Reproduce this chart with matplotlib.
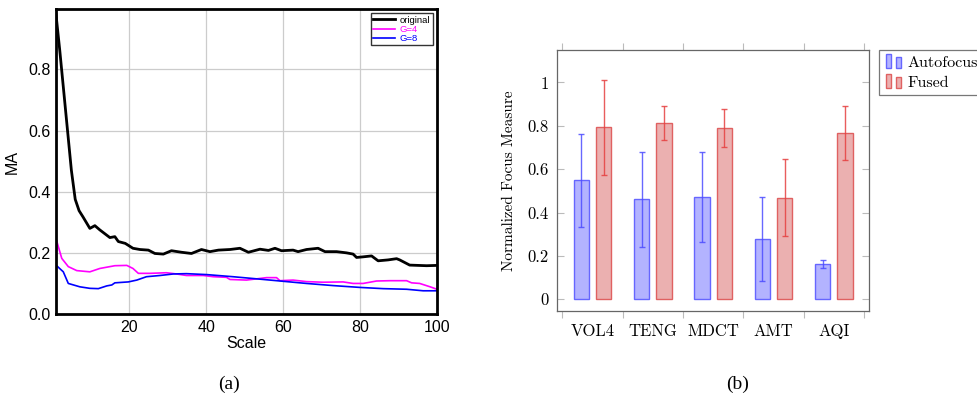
import matplotlib
matplotlib.use("Agg")
import matplotlib.pyplot as plt
import numpy as np
from matplotlib.patches import Rectangle
from matplotlib.legend_handler import HandlerBase

# ---------------- data: panel (a) ----------------
orig_scale = [1, 2, 3, 4, 5, 6, 7, 8, 9.8, 11.1, 12.4, 15, 16.3, 17.2, 19, 21, 22.8, 25, 26.7, 28.9,
              31, 33.6, 36.2, 38.8, 41, 43.2, 46.2, 48.8, 51, 54, 56.2, 57.9, 59.6, 62.6, 63.9,
              66.1, 69.1, 70.9, 73.9, 76.5, 78.2, 79.1, 80.8, 83, 84.7, 87.3, 89.5, 90.3, 92.9,
              97.3, 100]
orig_ma = [0.98, 0.86, 0.73, 0.60, 0.47, 0.375, 0.338, 0.318, 0.28, 0.289, 0.275, 0.25, 0.253, 0.237,
           0.231, 0.215, 0.211, 0.209, 0.198, 0.196, 0.207, 0.202, 0.198, 0.211, 0.204, 0.209,
           0.211, 0.215, 0.202, 0.212, 0.208, 0.215, 0.207, 0.209, 0.204, 0.211, 0.215, 0.204,
           0.204, 0.200, 0.196, 0.185, 0.187, 0.190, 0.174, 0.177, 0.181, 0.177, 0.160, 0.158,
           0.159]

g4_scale = [1, 2.5, 4.2, 6.4, 9.8, 12.4, 15, 16.3, 19.4, 21, 22.4, 25.4, 29.7, 32.3, 34.9, 39.3,
            41.9, 45.3, 46.2, 50.5, 55.7, 58.3, 59.2, 62.6, 66.1, 70.4, 75.6, 78.2, 80.8, 84.3,
            87.8, 92.1, 93.4, 95.5, 98.2, 100]
g4_ma = [0.247, 0.182, 0.155, 0.142, 0.138, 0.149, 0.155, 0.158, 0.159, 0.149, 0.133, 0.133,
         0.135, 0.131, 0.126, 0.126, 0.122, 0.120, 0.113, 0.111, 0.119, 0.119, 0.109, 0.111,
         0.106, 0.104, 0.105, 0.100, 0.100, 0.108, 0.109, 0.109, 0.102, 0.100, 0.089, 0.081]

g8_scale = [1, 2.9, 4.2, 7.2, 9.8, 12, 14.2, 15.5, 16.3, 19.8, 22, 24.5, 28, 31.5, 34.9, 40.1, 47,
            52.3, 59.2, 66.1, 73, 80, 86, 92.1, 96.4, 100]
g8_ma = [0.160, 0.138, 0.100, 0.089, 0.084, 0.083, 0.092, 0.095, 0.102, 0.105, 0.111, 0.122,
         0.126, 0.131, 0.132, 0.129, 0.122, 0.116, 0.108, 0.100, 0.093, 0.087, 0.083, 0.081,
         0.076, 0.076]

# ---------------- data: panel (b) ----------------
measures = ["VOL4", "TENG", "MDCT", "AMT", "AQI"]
auto_mean = [0.548, 0.460, 0.471, 0.277, 0.161]
auto_std = [0.215, 0.218, 0.208, 0.194, 0.019]
fused_mean = [0.792, 0.813, 0.789, 0.469, 0.768]
fused_std = [0.217, 0.078, 0.088, 0.179, 0.124]
ytick_vals = [0, 0.2, 0.4, 0.6, 0.8, 1.0]
ytick_labels = ["0", "0.2", "0.4", "0.6", "0.8", "1"]

fig = plt.figure(figsize=(9.77, 3.97), dpi=100)

# ---------------- panel (a) ----------------
sans = ["Liberation Sans", "DejaVu Sans"]
ax1 = fig.add_axes([0.0573, 0.209, 0.390, 0.768])
ax1.plot(orig_scale, orig_ma, color="black", lw=2.0, label="original")
ax1.plot(g4_scale, g4_ma, color="#ff00ff", lw=1.2, label="G=4")
ax1.plot(g8_scale, g8_ma, color="#0000ff", lw=1.2, label="G=8")
ax1.set_xlim(1, 100)
ax1.set_ylim(0, 0.997)
ax1.set_xticks([20, 40, 60, 80, 100])
ax1.set_yticks([0, 0.2, 0.4, 0.6, 0.8])
ax1.set_yticklabels(["0.0", "0.2", "0.4", "0.6", "0.8"])
ax1.grid(True, color="#cccccc", lw=0.9)
ax1.set_axisbelow(True)
for s in ax1.spines.values():
    s.set_linewidth(2.0)
ax1.tick_params(length=0, labelsize=11.5, pad=4)
for lab in ax1.get_xticklabels() + ax1.get_yticklabels():
    lab.set_family(sans)
ax1.set_xlabel("Scale", fontsize=11.5, family=sans, labelpad=1)
ax1.set_ylabel("MA", fontsize=11.5, family=sans, labelpad=6)
leg1 = ax1.legend(loc="upper right", frameon=True, fancybox=False,
                  handlelength=2.3, borderpad=0.25, labelspacing=0.02,
                  handletextpad=0.5, borderaxespad=0.45, prop={"family": sans, "size": 6.8})
leg1.get_frame().set_edgecolor("black")
leg1.get_frame().set_linewidth(1.0)
for txt, c in zip(leg1.get_texts(), ["black", "#ff00ff", "#0000ff"]):
    txt.set_color(c)

fig.text(0.2345, 0.033, "(a)", ha="center", va="center", fontsize=14, family="Liberation Serif")

# ---------------- panel (b) ----------------
serif = ["cmr10", "DejaVu Serif"]
plt.rcParams["axes.formatter.use_mathtext"] = True
ax2 = fig.add_axes([0.5698, 0.2166, 0.320, 0.6574])
x = np.arange(len(measures))
bw = 0.255
off = 0.185
blue_face = (0.70, 0.70, 1.0)
blue_edge = (0.40, 0.40, 1.0)
red_face = (0.92, 0.69, 0.69)
red_edge = (0.88, 0.38, 0.38)
ax2.bar(x - off, auto_mean, bw, color=blue_face, edgecolor=blue_edge, lw=1.0)
ax2.bar(x + off, fused_mean, bw, color=red_face, edgecolor=red_edge, lw=1.0)
ax2.errorbar(x - off, auto_mean, yerr=auto_std, fmt="none", ecolor=(0.3, 0.3, 1.0),
             elinewidth=1.0, capsize=2.5, capthick=1.0, alpha=0.85)
ax2.errorbar(x + off, fused_mean, yerr=fused_std, fmt="none", ecolor=(0.9, 0.25, 0.25),
             elinewidth=1.0, capsize=2.5, capthick=1.0, alpha=0.85)
ax2.set_xlim(-0.594, 4.59)
ax2.set_ylim(-0.054, 1.149)
ax2.set_xticks(x)
ax2.set_xticklabels(measures)
ax2.set_xticks(np.arange(-0.5, 5.0, 1.0), minor=True)
ax2.tick_params(axis="x", which="major", length=0, pad=9, labelsize=12)
ax2.tick_params(axis="x", which="minor", length=5, direction="out", color="#bbbbbb",
                top=True, bottom=True, width=0.8)
ax2.set_yticks(ytick_vals)
ax2.set_yticklabels(ytick_labels)
ax2.tick_params(axis="y", which="major", length=5, direction="in", color="#bbbbbb",
                left=True, right=True, labelsize=12, pad=6, width=0.8)
for lab in ax2.get_xticklabels() + ax2.get_yticklabels():
    lab.set_family(serif)
for s in ax2.spines.values():
    s.set_color("#666666")
    s.set_linewidth(0.9)
ax2.set_ylabel("Normalized Focus Measure", fontsize=11, family=serif, labelpad=8)


class TwoBarHandler(HandlerBase):
    def __init__(self, face, edge):
        super().__init__()
        self.face = face
        self.edge = edge

    def create_artists(self, legend, orig_handle, xdescent, ydescent, width, height,
                       fontsize, trans):
        w = width * 0.28
        r1 = Rectangle((-xdescent + width * 0.05, -ydescent - height * 0.1), w, height * 1.25,
                       facecolor=self.face, edgecolor=self.edge, lw=1.0, transform=trans)
        r2 = Rectangle((-xdescent + width * 0.6, -ydescent - height * 0.1), w, height * 0.95,
                       facecolor=self.face, edgecolor=self.edge, lw=1.0, transform=trans)
        return [r1, r2]


h_auto = Rectangle((0, 0), 1, 1)
h_fused = Rectangle((0, 0), 1, 1)
leg2 = ax2.legend([h_auto, h_fused], ["Autofocus", "Fused"], loc="upper left",
                  bbox_to_anchor=(1.032, 1.0), borderaxespad=0, frameon=True, fancybox=False,
                  handler_map={h_auto: TwoBarHandler(blue_face, blue_edge),
                               h_fused: TwoBarHandler(red_face, red_edge)},
                  handlelength=1.15, handletextpad=0.25, labelspacing=0.35, borderpad=0.35,
                  prop={"family": serif, "size": 11.5})
leg2.get_frame().set_edgecolor("#555555")
leg2.get_frame().set_linewidth(0.9)

fig.text(0.7553, 0.033, "(b)", ha="center", va="center", fontsize=14, family="Liberation Serif")

fig.savefig("out.png", dpi=100)
